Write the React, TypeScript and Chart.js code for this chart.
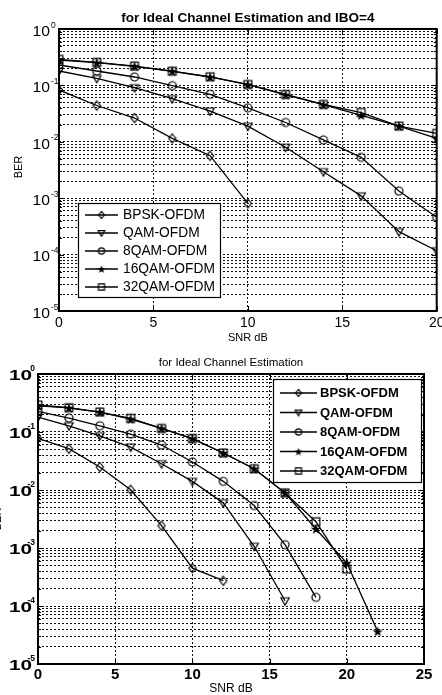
import React, { useEffect, useRef } from 'react';
import { Chart, registerables } from 'chart.js';

Chart.register(...registerables);

// ---------------- data ----------------
const seriesNames = ['BPSK-OFDM', 'QAM-OFDM', '8QAM-OFDM', '16QAM-OFDM', '32QAM-OFDM'];
const markerKinds = ['diamond', 'tri', 'circle', 'star', 'square'];

// top chart: IBO = 4
const snrTop = [0, 2, 4, 6, 8, 10, 12, 14, 16, 18, 20];
const bpskTop = [0.083, 0.044, 0.0264, 0.0115, 0.00567, 0.00081];
const qamTop = [0.18, 0.133, 0.091, 0.058, 0.035, 0.019, 0.008, 0.00295, 0.0011, 0.000255, 0.000117];
const qam8Top = [0.23, 0.18, 0.141, 0.099, 0.0695, 0.04, 0.022, 0.0108, 0.0053, 0.00134, 0.00046];
const qam16Top = [0.28, 0.253, 0.218, 0.178, 0.141, 0.103, 0.068, 0.0455, 0.0295, 0.019, 0.0115];
const qam32Top = [0.29, 0.256, 0.22, 0.179, 0.142, 0.104, 0.069, 0.046, 0.033, 0.019, 0.0141];
const topXTicks = [0, 5, 10, 15, 20];

// bottom chart: ideal channel estimation
const snrBottom = [0, 2, 4, 6, 8, 10, 12, 14, 16, 18, 20, 22];
const bpskBot = [0.0776, 0.0515, 0.0249, 0.0101, 0.00243, 0.00045, 0.000273];
const qamBot = [0.181, 0.128, 0.086, 0.055, 0.0284, 0.0141, 0.006, 0.00107, 0.000123];
const qam8Bot = [0.227, 0.174, 0.128, 0.092, 0.0596, 0.0304, 0.0141, 0.0054, 0.00114, 0.000141];
const qam16Bot = [0.283, 0.26, 0.221, 0.167, 0.115, 0.077, 0.0434, 0.0233, 0.0089, 0.00213, 0.00055, 0.0000365];
const qam32Bot = [0.292, 0.262, 0.221, 0.172, 0.115, 0.077, 0.0434, 0.0233, 0.0089, 0.00284, 0.000434];
const bottomXTicks = [0, 5, 10, 15, 20, 25];

const yExponents = [0, -1, -2, -3, -4, -5];

const topTitle = 'for Ideal Channel Estimation and IBO=4';
const bottomTitle = 'for Ideal Channel Estimation';
const xAxisLabel = 'SNR dB';
const yAxisLabel = 'BER';

// ---------------- helpers ----------------
const FAMILY = '"Liberation Sans", Arial, Helvetica, sans-serif';

function markerCanvas(kind: string, s: number): HTMLCanvasElement {
  const S = 16;
  const c = 8;
  const cv = document.createElement('canvas');
  cv.width = S;
  cv.height = S;
  const g = cv.getContext('2d') as CanvasRenderingContext2D;
  g.strokeStyle = '#000';
  g.fillStyle = '#000';
  g.lineWidth = 1.2;
  g.beginPath();
  if (kind === 'diamond') {
    g.moveTo(c, c - 4.5 * s);
    g.lineTo(c + 3.6 * s, c);
    g.lineTo(c, c + 4.5 * s);
    g.lineTo(c - 3.6 * s, c);
    g.closePath();
    g.stroke();
  } else if (kind === 'tri') {
    g.moveTo(c - 4.2 * s, c - 3 * s);
    g.lineTo(c + 4.2 * s, c - 3 * s);
    g.lineTo(c, c + 4.3 * s);
    g.closePath();
    g.stroke();
  } else if (kind === 'circle') {
    g.arc(c, c, 4 * s, 0, Math.PI * 2);
    g.stroke();
  } else if (kind === 'star') {
    for (let i = 0; i < 10; i++) {
      const r = i % 2 ? 2.2 * s : 5.4 * s;
      const a = -Math.PI / 2 + (i * Math.PI) / 5;
      const px = c + r * Math.cos(a);
      const py = c + 0.5 + r * Math.sin(a);
      if (i === 0) g.moveTo(px, py);
      else g.lineTo(px, py);
    }
    g.closePath();
    g.fill();
  } else {
    g.rect(c - 3.9 * s, c - 3.9 * s, 7.8 * s, 7.8 * s);
    g.stroke();
  }
  return cv;
}

type Spec = {
  width: number;
  height: number;
  area: { left: number; top: number; right: number; bottom: number };
  xMax: number;
  xTicks: number[];
  xs: number[];
  ys: number[][];
  bold: boolean;
  tickSize: number;
  expSize: number;
  tenStretch: number;
  xTickPad: number;
  yTickRight: number;
  tenDy: number;
  expX: number;
  expAlign: CanvasTextAlign;
  expDy: number;
  title: string;
  titleFont: string;
  titleY: number;
  xLabelFont: string;
  xLabelY: number;
  yLabelFont: string;
  yLabelX: number;
  yLabelY: number;
  legend: {
    left: number;
    top: number;
    right: number;
    bottom: number;
    rowY: number[];
    lineX1: number;
    lineX2: number;
    textX: number;
    font: string;
  };
};

const topSpec: Spec = {
  width: 442,
  height: 345,
  area: { left: 59, top: 29, right: 437, bottom: 311 },
  xMax: 20,
  xTicks: topXTicks,
  xs: snrTop,
  ys: [bpskTop, qamTop, qam8Top, qam16Top, qam32Top],
  bold: false,
  tickSize: 14,
  expSize: 8.5,
  tenStretch: 1.12,
  xTickPad: 4,
  yTickRight: 50,
  tenDy: 3,
  expX: 51,
  expAlign: 'left',
  expDy: -1.5,
  title: topTitle,
  titleFont: `bold 13.5px ${FAMILY}`,
  titleY: 18,
  xLabelFont: `11px ${FAMILY}`,
  xLabelY: 338,
  yLabelFont: `11px ${FAMILY}`,
  yLabelX: 19,
  yLabelY: 167,
  legend: {
    left: 78,
    top: 203,
    right: 220,
    bottom: 297,
    rowY: [215, 233, 251, 269, 287],
    lineX1: 85,
    lineX2: 118,
    textX: 123,
    font: `13.8px ${FAMILY}`,
  },
};

const bottomSpec: Spec = {
  width: 442,
  height: 350,
  area: { left: 38, top: 29, right: 424, bottom: 319 },
  xMax: 25,
  xTicks: bottomXTicks,
  xs: snrBottom,
  ys: [bpskBot, qamBot, qam8Bot, qam16Bot, qam32Bot],
  bold: true,
  tickSize: 15,
  expSize: 8.5,
  tenStretch: 1.38,
  xTickPad: 2,
  yTickRight: 32,
  tenDy: 2,
  expX: 35,
  expAlign: 'right',
  expDy: -3.5,
  title: bottomTitle,
  titleFont: `11.5px ${FAMILY}`,
  titleY: 18,
  xLabelFont: `12px ${FAMILY}`,
  xLabelY: 344,
  yLabelFont: `11px ${FAMILY}`,
  yLabelX: -2,
  yLabelY: 174,
  legend: {
    left: 273,
    top: 34,
    right: 421,
    bottom: 137,
    rowY: [48, 67.5, 87, 106.5, 126],
    lineX1: 280,
    lineX2: 317,
    textX: 320,
    font: `bold 13px ${FAMILY}`,
  },
};

function buildChart(canvas: HTMLCanvasElement, spec: Spec): Chart {
  const markers = markerKinds.map((k) => markerCanvas(k, 1));
  const legendMarkers = markerKinds.map((k) => markerCanvas(k, 0.78));

  const yTickValues: number[] = [];
  for (let e = -5; e <= 0; e++) {
    const base = Math.pow(10, e);
    if (e === 0) {
      yTickValues.push(1);
    } else {
      for (let m = 1; m <= 9; m++) yTickValues.push(m * base);
    }
  }

  const datasets = spec.ys.map((vals, i) => ({
    label: seriesNames[i],
    data: vals.map((v, j) => ({ x: spec.xs[j], y: v })),
    borderColor: '#000',
    backgroundColor: 'rgba(0,0,0,0)',
    borderWidth: 1.3,
    pointStyle: markers[i] as any,
    pointRadius: 4,
    pointHoverRadius: 4,
    tension: 0,
    fill: false,
  }));

  const a = spec.area;

  const decor = {
    id: 'matlabDecor',
    afterDraw(chart: any) {
      const ctx: CanvasRenderingContext2D = chart.ctx;
      const ca = chart.chartArea;
      const ys = chart.scales.y;
      const xs = chart.scales.x;
      ctx.save();

      // inner tick marks
      ctx.strokeStyle = '#000';
      ctx.lineWidth = 1;
      ctx.setLineDash([]);
      ctx.beginPath();
      for (const v of spec.xTicks) {
        const px = Math.round(xs.getPixelForValue(v)) + 0.5;
        ctx.moveTo(px, ca.bottom);
        ctx.lineTo(px, ca.bottom - 5);
        ctx.moveTo(px, ca.top);
        ctx.lineTo(px, ca.top + 5);
      }
      for (const v of yTickValues) {
        const py = Math.round(ys.getPixelForValue(v)) + 0.5;
        const isMajor = Math.abs(Math.log10(v) - Math.round(Math.log10(v))) < 1e-9;
        const len = isMajor ? 5 : 3;
        ctx.moveTo(ca.left, py);
        ctx.lineTo(ca.left + len, py);
        ctx.moveTo(ca.right, py);
        ctx.lineTo(ca.right - len, py);
      }
      ctx.stroke();

      // frame
      ctx.lineWidth = 2;
      ctx.strokeRect(ca.left, ca.top, ca.right - ca.left, ca.bottom - ca.top);

      // y tick labels 10^e
      ctx.fillStyle = '#000';
      const weight = spec.bold ? 'bold ' : '';
      for (const e of yExponents) {
        const py = ys.getPixelForValue(Math.pow(10, e));
        ctx.save();
        ctx.translate(spec.yTickRight, py + spec.tenDy);
        ctx.scale(spec.tenStretch, 1);
        ctx.font = `${weight}${spec.tickSize}px ${FAMILY}`;
        ctx.textAlign = 'right';
        ctx.textBaseline = 'middle';
        ctx.fillText('10', 0, 0);
        ctx.restore();
        ctx.font = `${weight}${spec.expSize}px ${FAMILY}`;
        ctx.textAlign = spec.expAlign;
        ctx.textBaseline = 'alphabetic';
        ctx.fillText(e === 0 ? '0' : '-' + Math.abs(e), spec.expX, py + spec.expDy);
      }

      // title
      const cx = (ca.left + ca.right) / 2;
      ctx.font = spec.titleFont;
      ctx.textAlign = 'center';
      ctx.textBaseline = 'middle';
      ctx.fillText(spec.title, cx, spec.titleY);

      // x label
      ctx.font = spec.xLabelFont;
      ctx.fillText(xAxisLabel, cx, spec.xLabelY);

      // y label
      ctx.save();
      ctx.translate(spec.yLabelX, spec.yLabelY);
      ctx.rotate(-Math.PI / 2);
      ctx.font = spec.yLabelFont;
      ctx.textAlign = 'center';
      ctx.textBaseline = 'middle';
      ctx.fillText(yAxisLabel, 0, 0);
      ctx.restore();

      // legend
      const L = spec.legend;
      ctx.fillStyle = '#fff';
      ctx.fillRect(L.left, L.top, L.right - L.left, L.bottom - L.top);
      ctx.strokeStyle = '#000';
      ctx.lineWidth = 1.2;
      ctx.strokeRect(L.left + 0.5, L.top + 0.5, L.right - L.left, L.bottom - L.top);
      ctx.fillStyle = '#000';
      ctx.font = L.font;
      ctx.textAlign = 'left';
      ctx.textBaseline = 'middle';
      seriesNames.forEach((name, i) => {
        const ry = L.rowY[i];
        ctx.beginPath();
        ctx.lineWidth = 1.3;
        ctx.moveTo(L.lineX1, ry);
        ctx.lineTo(L.lineX2, ry);
        ctx.stroke();
        const mk = legendMarkers[i];
        const mx = (L.lineX1 + L.lineX2) / 2;
        ctx.drawImage(mk, mx - mk.width / 2, ry - mk.height / 2);
        ctx.fillText(name, L.textX, ry + 0.5);
      });

      ctx.restore();
    },
  };

  return new Chart(canvas, {
    type: 'line',
    data: { datasets: datasets as any },
    options: {
      responsive: false,
      animation: false,
      events: [],
      layout: {
        padding: { left: 0, top: a.top, right: spec.width - a.right, bottom: 0 },
      },
      plugins: {
        legend: { display: false },
        title: { display: false },
        tooltip: { enabled: false },
      },
      scales: {
        x: {
          type: 'linear',
          min: 0,
          max: spec.xMax,
          afterBuildTicks: (scale: any) => {
            scale.ticks = spec.xTicks.map((v) => ({ value: v }));
          },
          afterFit: (scale: any) => {
            scale.height = spec.height - a.bottom;
            scale.paddingLeft = 0;
            scale.paddingRight = 0;
          },
          ticks: {
            autoSkip: false,
            maxRotation: 0,
            minRotation: 0,
            padding: spec.xTickPad,
            color: '#000',
            font: { family: FAMILY, size: spec.tickSize, weight: spec.bold ? 'bold' : 'normal' },
          },
          grid: { color: '#111', lineWidth: 1, drawTicks: false },
          border: { display: false, dash: [2, 2] },
        },
        y: {
          type: 'logarithmic',
          min: 1e-5,
          max: 1,
          afterBuildTicks: (scale: any) => {
            scale.ticks = yTickValues.map((v) => ({ value: v }));
          },
          afterFit: (scale: any) => {
            scale.width = a.left;
            scale.paddingTop = 0;
            scale.paddingBottom = 0;
          },
          ticks: { display: false, autoSkip: false },
          grid: { color: '#111', lineWidth: 1, drawTicks: false },
          border: { display: false, dash: [2, 2] },
        },
      },
    },
    plugins: [decor as any],
  });
}

function PlotCanvas({ spec, top }: { spec: Spec; top: number }) {
  const ref = useRef<HTMLCanvasElement | null>(null);
  useEffect(() => {
    if (!ref.current) return;
    const chart = buildChart(ref.current, spec);
    return () => chart.destroy();
  }, [spec]);
  return (
    <canvas
      ref={ref}
      width={spec.width}
      height={spec.height}
      style={{ position: 'absolute', left: 0, top, display: 'block', width: spec.width, height: spec.height }}
    />
  );
}

export default function App() {
  return (
    <div style={{ position: 'absolute', left: 0, top: 0, width: 442, height: 695, background: '#fff', overflow: 'hidden' }}>
      <PlotCanvas spec={topSpec} top={0} />
      <PlotCanvas spec={bottomSpec} top={345} />
    </div>
  );
}
